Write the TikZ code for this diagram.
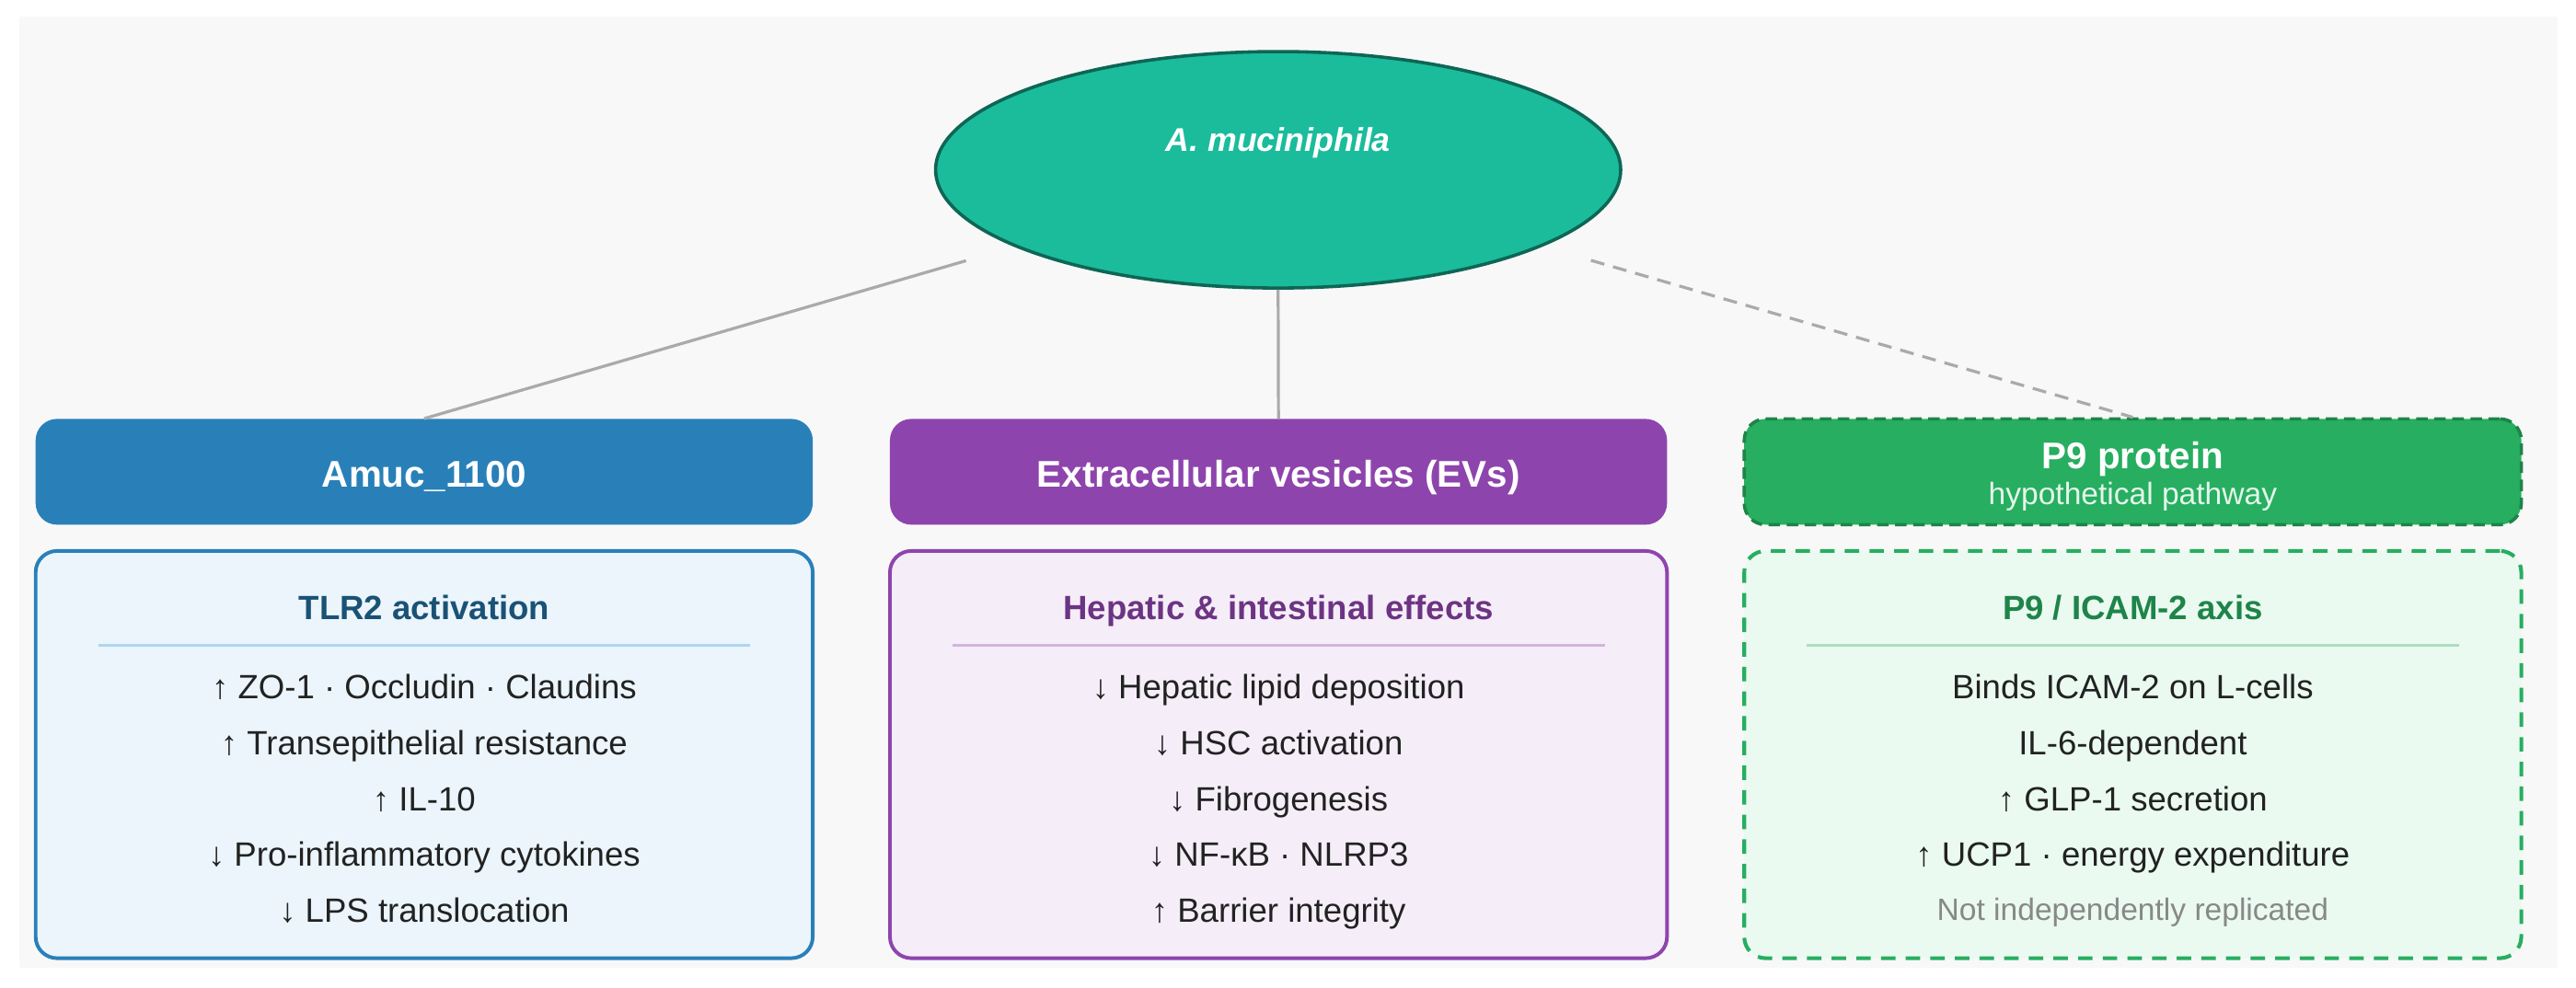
\documentclass[tikz,border=0pt]{standalone}
\usepackage{fontspec}
\setmainfont{Liberation Sans}
\usetikzlibrary{shapes.geometric}
\definecolor{bgc}{HTML}{F8F8F8}
\definecolor{tealf}{HTML}{1ABC9C}
\definecolor{teald}{HTML}{0E6655}
\definecolor{cblue}{HTML}{2980B9}
\definecolor{cpurp}{HTML}{8E44AD}
\definecolor{cgreen}{HTML}{27AE60}
\definecolor{cgreend}{HTML}{1E8449}
\definecolor{fblue}{HTML}{EBF5FB}
\definecolor{fpurp}{HTML}{F5EEF8}
\definecolor{fgreen}{HTML}{EAFAF1}
\definecolor{sblue}{HTML}{AED6F1}
\definecolor{spurp}{HTML}{D2B4DE}
\definecolor{sgreen}{HTML}{A9DFBF}
\definecolor{tblue}{HTML}{1A5276}
\definecolor{tpurp}{HTML}{6C3483}
\definecolor{tgreen}{HTML}{1E8449}
\definecolor{bodyc}{HTML}{222222}
\definecolor{notec}{HTML}{888888}
\definecolor{connc}{HTML}{AAAAAA}
\definecolor{subc}{HTML}{E4F6EB}
\begin{document}
\begin{tikzpicture}[x=1pt,y=-1pt,
  hdr/.style={rectangle, rounded corners=13pt, minimum width=473pt, minimum height=64.4pt, inner sep=0},
  bodybox/.style={rectangle, rounded corners=13pt, minimum width=473pt, minimum height=248pt, inner sep=0, line width=2.2pt},
  txt/.style={inner sep=0, anchor=base},
  hdrtxt/.style={txt, font=\fontsize{22.6}{26}\selectfont\bfseries, text=white},
  ttl/.style={txt, font=\fontsize{20.5}{24}\selectfont\bfseries},
  bodytxt/.style={txt, font=\fontsize{20.5}{24}\selectfont, text=bodyc},
  conn/.style={draw=connc, line width=1.8pt},
  sepline/.style={line width=1.7pt}
]
\useasboundingbox (0,0) rectangle (1568,601.1);
\fill[white] (0,0) rectangle (1568,601.1);
\fill[bgc] (11.8,10.3) rectangle (1556.5,589.5);

% central ellipse
\node[ellipse, minimum width=417pt, minimum height=144pt, inner sep=0,
      fill=tealf, draw=teald, line width=2pt] (ell) at (778,103.4) {};
\node[txt, font=\fontsize{20}{24}\selectfont\bfseries\itshape, text=white] (elltxt) at (778,92.2) {A. muciniphila};

% headers
\node[hdr, fill=cblue] (h1) at (258.2,287.3) {};
\node[hdr, fill=cpurp] (h2) at (778.2,287.3) {};
\node[hdr, fill=cgreen, draw=cgreend, line width=2pt, dash pattern=on 7pt off 4pt] (h3) at (1298.2,287.3) {};

% connectors
\draw[conn, shorten <=30.5pt] (ell) -- (h1.north);
\draw[conn] (ell.south) -- (h2.north);
\draw[conn, dash pattern=on 8.5pt off 5.5pt, shorten <=30.5pt] (ell) -- (h3.north);

\node[hdrtxt] (h1t) at (258.2,296.5) {Amuc\_1100};
\node[hdrtxt] (h2t) at (778.2,296.5) {Extracellular vesicles (EVs)};
\node[hdrtxt] (h3t) at (1298.2,285.3) {P9 protein};
\node[txt, font=\fontsize{18.8}{22}\selectfont, text=subc] (h3s) at (1298.2,307.5) {hypothetical pathway};

% body boxes
\node[bodybox, fill=fblue, draw=cblue] (b1) at (258.2,459.5) {};
\node[bodybox, fill=fpurp, draw=cpurp] (b2) at (778.2,459.5) {};
\node[bodybox, fill=fgreen, draw=cgreen, line width=2.3pt, dash pattern=on 8.8pt off 6.2pt] (b3) at (1298.2,459.5) {};

% titles
\node[ttl, text=tblue] (t1) at (258.2,377.2) {TLR2 activation};
\node[ttl, text=tpurp] (t2) at (778.2,377.2) {Hepatic \& intestinal effects};
\node[ttl, text=tgreen] (t3) at (1298.2,377.2) {P9 / ICAM-2 axis};

% separators
\draw[sepline, sblue] (59.7,392.8) -- (456.7,392.8);
\draw[sepline, spurp] (579.7,392.8) -- (976.7,392.8);
\draw[sepline, sgreen] (1099.7,392.8) -- (1496.7,392.8);

% box 1 lines
\node[bodytxt] (l11) at (258.2,425.4) {↑ ZO-1 · Occludin · Claudins};
\node[bodytxt] (l12) at (258.2,459.5) {↑ Transepithelial resistance};
\node[bodytxt] (l13) at (258.2,493.6) {↑ IL-10};
\node[bodytxt] (l14) at (258.2,527.7) {↓ Pro-inflammatory cytokines};
\node[bodytxt] (l15) at (258.2,561.8) {↓ LPS translocation};

% box 2 lines
\node[bodytxt] (l21) at (778.2,425.4) {↓ Hepatic lipid deposition};
\node[bodytxt] (l22) at (778.2,459.5) {↓ HSC activation};
\node[bodytxt] (l23) at (778.2,493.6) {↓ Fibrogenesis};
\node[bodytxt] (l24) at (778.2,527.7) {↓ NF-κB · NLRP3};
\node[bodytxt] (l25) at (778.2,561.8) {↑ Barrier integrity};

% box 3 lines
\node[bodytxt] (l31) at (1298.2,425.4) {Binds ICAM-2 on L-cells};
\node[bodytxt] (l32) at (1298.2,459.5) {IL-6-dependent};
\node[bodytxt] (l33) at (1298.2,493.6) {↑ GLP-1 secretion};
\node[bodytxt] (l34) at (1298.2,527.7) {↑ UCP1 · energy expenditure};
\node[txt, font=\fontsize{18.8}{22}\selectfont, text=notec] (l35) at (1298.2,560.5) {Not independently replicated};
\end{tikzpicture}
\end{document}
